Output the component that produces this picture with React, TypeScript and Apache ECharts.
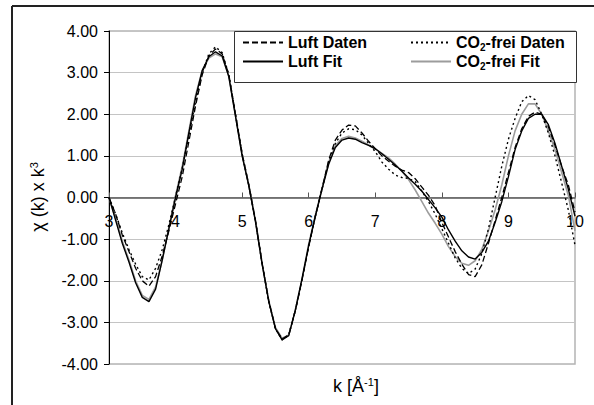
import React, { useEffect, useRef } from "react";
import * as echarts from "echarts";

// k values (Å^-1)
const kValues = [
  3.0, 3.1, 3.2, 3.3, 3.4, 3.5, 3.6, 3.7, 3.8, 3.9,
  4.0, 4.1, 4.2, 4.3, 4.4, 4.5, 4.6, 4.7, 4.8, 4.9,
  5.0, 5.1, 5.2, 5.3, 5.4, 5.5, 5.6, 5.7, 5.8, 5.9,
  6.0, 6.1, 6.2, 6.3, 6.4, 6.5, 6.6, 6.7, 6.8, 6.9,
  7.0, 7.1, 7.2, 7.3, 7.4, 7.5, 7.6, 7.7, 7.8, 7.9,
  8.0, 8.1, 8.2, 8.3, 8.4, 8.5, 8.6, 8.7, 8.8, 8.9,
  9.0, 9.1, 9.2, 9.3, 9.4, 9.5, 9.6, 9.7, 9.8, 9.9,
  10.0,
];

const luftDaten = [
  0, -0.4, -0.9, -1.3, -1.7, -2.0, -2.13, -1.9, -1.4, -0.8,
  -0.15, 0.5, 1.35, 2.2, 2.95, 3.4, 3.57, 3.45, 2.95, 2.0,
  1.05, 0.3, -0.55, -1.58, -2.48, -3.15, -3.4, -3.3, -2.72, -1.98,
  -1.18, -0.45, 0.22, 0.9, 1.38, 1.62, 1.74, 1.72, 1.55, 1.35,
  1.17, 1.0, 0.87, 0.75, 0.66, 0.6, 0.45, 0.25, 0.05, -0.2,
  -0.6, -0.95, -1.3, -1.6, -1.85, -1.9, -1.62, -1.1, -0.55, 0.0,
  0.6, 1.2, 1.65, 1.95, 2.05, 2.0, 1.7, 1.25, 0.75, 0.3,
  -0.35,
];

const luftFit = [
  0, -0.55, -1.1, -1.55, -2.05, -2.4, -2.5, -2.2, -1.5, -0.75,
  0.0, 0.68, 1.55, 2.4, 3.05, 3.38, 3.5, 3.4, 2.9, 1.95,
  1.0, 0.28, -0.58, -1.6, -2.5, -3.15, -3.42, -3.32, -2.7, -1.95,
  -1.15, -0.45, 0.2, 0.8, 1.2, 1.38, 1.43, 1.4, 1.32, 1.25,
  1.17, 1.05, 0.92, 0.78, 0.63, 0.47, 0.32, 0.15, -0.05, -0.25,
  -0.47, -0.78, -1.05, -1.28, -1.43, -1.48, -1.32, -1.05, -0.6, -0.1,
  0.5, 1.15, 1.6, 1.9, 2.0, 2.0, 1.75, 1.3, 0.75, 0.2,
  -0.45,
];

const co2Daten = [
  0, -0.4, -0.85, -1.25, -1.6, -1.9, -1.98, -1.7, -1.25, -0.65,
  0.02, 0.7, 1.5, 2.3, 3.0, 3.45, 3.62, 3.48, 2.95, 2.0,
  1.05, 0.3, -0.55, -1.58, -2.5, -3.15, -3.42, -3.3, -2.7, -1.95,
  -1.15, -0.45, 0.2, 0.85, 1.3, 1.55, 1.65, 1.63, 1.5, 1.3,
  1.1, 0.85, 0.68, 0.54, 0.48, 0.46, 0.38, 0.15, -0.1, -0.4,
  -0.75, -1.1, -1.45, -1.7, -1.83, -1.72, -1.35, -0.75, 0.0, 0.75,
  1.4, 1.9, 2.3, 2.45, 2.35, 2.0, 1.55, 1.0, 0.35, -0.3,
  -1.15,
];

const co2Fit = [
  0, -0.5, -1.05, -1.5, -2.0, -2.35, -2.45, -2.15, -1.5, -0.72,
  0.05, 0.75, 1.6, 2.45, 3.05, 3.35, 3.45, 3.38, 2.92, 1.98,
  1.02, 0.3, -0.55, -1.58, -2.48, -3.12, -3.38, -3.3, -2.7, -1.95,
  -1.12, -0.42, 0.22, 0.85, 1.25, 1.42, 1.47, 1.43, 1.35, 1.26,
  1.17, 1.06, 0.95, 0.8, 0.63, 0.43, 0.18, -0.1, -0.38, -0.62,
  -0.88, -1.18, -1.42, -1.58, -1.63, -1.52, -1.25, -0.8, -0.3, 0.3,
  1.0, 1.6, 2.0, 2.25, 2.25, 2.0, 1.6, 1.15, 0.6, 0.05,
  -0.8,
];

const seriesNames = ["Luft Daten", "Luft Fit", "CO2-frei Daten", "CO2-frei Fit"];
const xMin = 3;
const xMax = 10;
const yMin = -4;
const yMax = 4;

const FONT = "'Liberation Sans', Arial, sans-serif";

const GRID_TOP = 31;
const GRID_BOTTOM = 41;
const CHART_H = 405;

function pairs(vals: number[]) {
  return kValues.map((k, i) => [k, vals[i]]);
}

export default function App() {
  const ref = useRef<HTMLDivElement>(null);

  useEffect(() => {
    document.body.style.margin = "0";
    if (!ref.current) return;
    const chart = echarts.init(ref.current, undefined, { renderer: "svg" });

    // place the x axis on y = 0 (offset from the bottom edge of the grid)
    const plotH = CHART_H - GRID_TOP - GRID_BOTTOM;
    const zeroOffset = -((0 - yMin) / (yMax - yMin)) * plotH;

    const legendText = {
      fontFamily: FONT,
      fontSize: 16,
      fontWeight: "bold" as const,
      color: "#000",
      lineHeight: 19,
      rich: {
        sub: {
          fontFamily: FONT,
          fontSize: 10,
          fontWeight: "bold" as const,
          color: "#000",
          verticalAlign: "bottom" as const,
          lineHeight: 19,
        },
      },
    };
    const legendFormatter = (name: string) =>
      name.startsWith("CO2") ? "CO{sub|2}" + name.slice(3) : name;

    const legendCommon = {
      orient: "vertical" as const,
      top: 33,
      padding: 0,
      itemGap: 0,
      itemWidth: 40,
      itemHeight: 14,
      selectedMode: false,
      formatter: legendFormatter,
      textStyle: legendText,
      itemStyle: { color: "transparent", borderColor: "transparent", borderWidth: 0 },
      z: 10,
    };

    chart.setOption({
      animation: false,
      backgroundColor: "#fff",
      grid: {
        left: 109,
        right: 19,
        top: GRID_TOP,
        bottom: GRID_BOTTOM,
        show: true,
        borderColor: "#b4b4b4",
        borderWidth: 1.5,
        backgroundColor: "transparent",
      },
      xAxis: {
        type: "value",
        min: xMin,
        max: xMax,
        interval: 1,
        offset: zeroOffset,
        axisLine: { onZero: false, lineStyle: { color: "#555", width: 1.5 } },
        axisTick: { show: true, inside: true, length: 5, lineStyle: { color: "#555" } },
        axisLabel: {
          fontFamily: FONT,
          fontSize: 16,
          color: "#000",
          margin: 16,
          formatter: (v: number) => String(v),
        },
        splitLine: { show: false },
      },
      yAxis: {
        type: "value",
        min: yMin,
        max: yMax,
        interval: 1,
        axisLine: { show: true, onZero: false, lineStyle: { color: "#000", width: 1 } },
        axisTick: { show: true, inside: false, length: 5, lineStyle: { color: "#000" } },
        axisLabel: {
          fontFamily: FONT,
          fontSize: 16,
          color: "#000",
          margin: 11,
          formatter: (v: number) => v.toFixed(2),
        },
        splitLine: { show: true, lineStyle: { color: "#c4c4c4", width: 1 } },
      },
      legend: [
        { ...legendCommon, data: ["Luft Daten", "Luft Fit"], left: 242 },
        { ...legendCommon, data: ["CO2-frei Daten", "CO2-frei Fit"], left: 410 },
      ],
      graphic: [
        {
          type: "rect",
          z: 8,
          shape: { x: 234.5, y: 31.5, width: 342, height: 51 },
          style: { fill: "#fff", stroke: "#333", lineWidth: 1 },
        },
        {
          type: "line",
          z: 8,
          shape: { x1: 12, y1: 6, x2: 594, y2: 6 },
          style: { stroke: "#222", lineWidth: 2 },
        },
        {
          type: "line",
          z: 8,
          shape: { x1: 12, y1: 6, x2: 12, y2: 405 },
          style: { stroke: "#222", lineWidth: 2 },
        },
        {
          type: "text",
          z: 8,
          x: 38,
          y: 197,
          rotation: Math.PI / 2,
          style: {
            text: "χ (k) x k{sup|3}",
            fontFamily: FONT,
            fontSize: 18,
            fill: "#000",
            align: "center",
            verticalAlign: "middle",
            rich: {
              sup: {
                fontFamily: FONT,
                fontSize: 11,
                fill: "#000",
                verticalAlign: "top",
                lineHeight: 20,
              },
            },
          },
        },
        {
          type: "text",
          z: 8,
          x: 356,
          y: 386,
          style: {
            text: "k [Å{sup|-1}]",
            fontFamily: FONT,
            fontSize: 18,
            fill: "#000",
            align: "center",
            verticalAlign: "middle",
            rich: {
              sup: {
                fontFamily: FONT,
                fontSize: 11,
                fill: "#000",
                verticalAlign: "top",
                lineHeight: 20,
              },
            },
          },
        },
      ],
      series: [
        {
          name: seriesNames[3],
          type: "line",
          data: pairs(co2Fit),
          symbol: "none",
          z: 2,
          lineStyle: { color: "#9c9c9c", width: 1.6, type: "solid" },
          itemStyle: { color: "#9c9c9c" },
        },
        {
          name: seriesNames[0],
          type: "line",
          data: pairs(luftDaten),
          symbol: "none",
          z: 3,
          lineStyle: { color: "#000", width: 1.3, type: [6, 3] },
          itemStyle: { color: "#000" },
        },
        {
          name: seriesNames[2],
          type: "line",
          data: pairs(co2Daten),
          symbol: "none",
          z: 3,
          lineStyle: { color: "#000", width: 1.4, type: [2, 3] },
          itemStyle: { color: "#000" },
        },
        {
          name: seriesNames[1],
          type: "line",
          data: pairs(luftFit),
          symbol: "none",
          z: 4,
          lineStyle: { color: "#000", width: 1.4, type: "solid" },
          itemStyle: { color: "#000" },
        },
      ],
    });

    return () => chart.dispose();
  }, []);

  return <div ref={ref} style={{ width: 594, height: 405 }} />;
}
